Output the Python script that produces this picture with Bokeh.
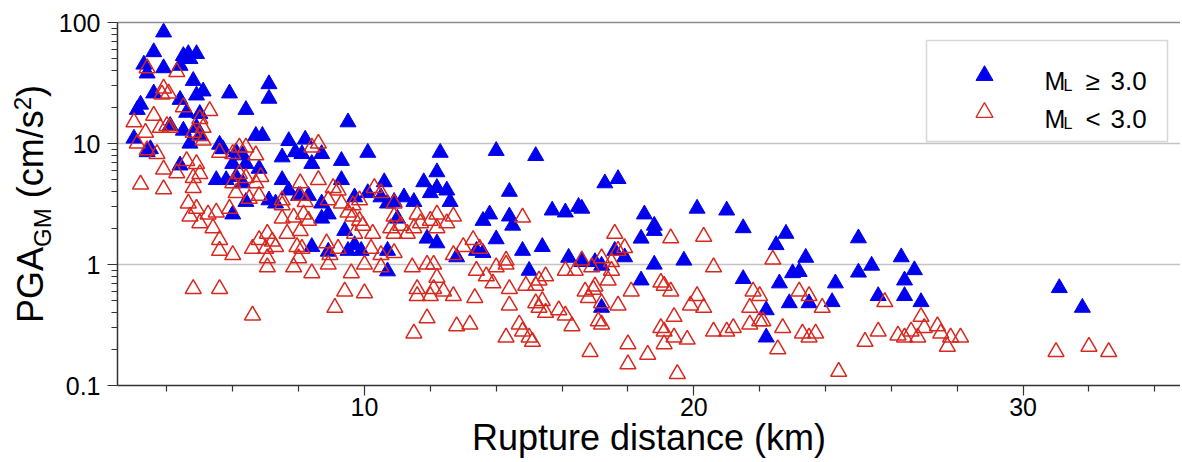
from bokeh.plotting import figure
from bokeh.layouts import row
from bokeh.models import (FixedTicker, LinearAxis, Label, BoxAnnotation, Range1d,
                          CustomJSTickFormatter, Div)
from bokeh.embed import file_html
from bokeh.resources import INLINE

# ---------------- data (rupture distance km, PGA_GM cm/s^2) ----------------
blue_x = [3.0, 3.1, 3.2, 3.3, 3.4, 3.4, 3.5, 3.6, 3.6, 3.9, 3.9, 4.1, 4.4, 4.4, 4.4,
          4.5, 4.5, 4.65, 4.7, 4.6, 4.7, 4.9, 4.8, 4.9, 5.1, 5.0, 4.9, 5.0, 5.6, 5.5,
          5.7, 5.9, 6.4, 6.0, 6.1, 6.3, 6.4, 5.8, 6.1, 6.3, 6.0, 6.4, 6.8, 6.7, 6.9,
          7.1, 7.1, 7.1, 7.3, 7.5, 7.7, 7.9, 8.1, 8.2, 8.4, 8.7, 7.5, 7.7, 8.0, 8.3,
          8.7, 8.7, 8.9, 8.4, 8.9, 9.5, 9.3, 10.1, 9.3, 9.7, 10.1, 10.6, 10.5, 10.7,
          10.9, 9.4, 9.5, 9.7, 9.9, 10.7, 10.7, 11.2, 11.5, 11.0, 11.8, 12.2, 12.2,
          12.0, 12.5, 12.6, 12.3, 11.9, 12.2, 12.8, 13.4, 13.6, 14.0, 14.4, 13.6, 13.8,
          14.4, 14.5, 14.0, 14.8, 15.0, 15.4, 15.2, 15.7, 16.1, 16.5, 16.6, 16.2, 16.6,
          17.0, 17.2, 17.2, 17.6, 17.9, 17.3, 17.7, 18.4, 18.8, 18.4, 18.8, 19.7, 18.5,
          18.8, 20.1, 21.0, 21.5, 21.5, 22.2, 22.2, 22.8, 22.5, 23.4, 23.0, 23.2, 22.6,
          22.9, 23.5, 24.3, 24.2, 25.0, 25.0, 25.4, 25.6, 26.3, 26.4, 26.7, 26.4, 26.9,
          31.1, 31.8]
blue_y = [11.0, 19.0, 21.0, 45.0, 38.0, 8.5, 9.0, 57.0, 26.0, 83.0, 42.0, 14.0, 44.0, 23.0, 6.6,
          53.0, 12.8, 55.0, 50.0, 18.0, 10.0, 55.0, 33.0, 25.0, 27.0, 17.6, 13.5, 11.5, 9.8, 5.0,
          9.0, 26.0, 19.0, 6.8, 8.5, 8.0, 6.8, 5.0, 5.3, 4.7, 2.6, 3.3, 6.2, 11.6, 11.6,
          31.0, 23.5, 3.4, 3.2, 7.7, 10.5, 8.5, 8.2, 10.8, 6.8, 8.2, 5.0, 4.1, 3.7, 3.7,
          3.2, 2.4, 2.6, 1.4, 1.28, 15.0, 7.2, 8.4, 5.0, 3.6, 3.9, 4.8, 3.6, 3.2,
          3.3, 1.9, 1.3, 1.45, 1.3, 1.3, 0.88, 3.6, 3.3, 2.4, 4.8, 5.8, 4.3,
          3.9, 4.1, 3.3, 8.4, 1.64, 1.5, 1.15, 1.3, 1.25, 8.7, 4.0, 2.3, 2.6,
          2.5, 2.1, 1.62, 1.3, 0.89, 1.4, 7.9, 2.8, 2.7, 3.0, 2.9, 1.14, 1.05,
          1.05, 0.98, 0.44, 1.3, 1.15, 4.7, 5.1, 1.64, 1.9, 0.74, 1.0, 1.08, 2.6,
          2.1, 2.9, 2.8, 2.0, 0.76, 0.42, 0.25, 1.8, 1.45, 1.14, 0.85, 0.87, 0.70,
          0.48, 0.48, 0.70, 0.49, 1.65, 0.86, 0.98, 0.55, 1.15, 0.74, 0.90, 0.55, 0.49,
          0.64, 0.44]

red_x = [3.0, 3.1, 3.2, 3.35, 3.4, 3.4, 3.6, 3.7, 3.8, 3.9, 3.85, 4.05, 3.9, 3.9, 4.0,
         4.3, 4.3, 4.5, 4.6, 4.8, 4.8, 4.8, 4.65, 4.9, 5.0, 5.1, 5.0, 4.9, 4.7, 5.0,
         5.3, 5.25, 5.5, 5.4, 4.8, 4.1, 5.0, 5.1,
         5.6, 6.0, 6.2, 6.4, 6.7, 6.2, 6.4, 6.7, 6.0, 6.85, 5.9, 6.1, 6.5, 6.8, 5.6,
         5.6, 6.0, 5.6, 6.6, 6.6, 6.8, 7.0, 7.05, 7.2, 7.3, 7.05, 7.05, 7.5, 7.5, 7.5,
         7.85, 8.15, 7.65, 8.05, 8.3, 7.95, 8.1, 8.0, 7.85, 8.4, 8.4, 8.6, 8.05, 8.2,
         8.05, 8.6, 8.9, 9.05, 9.2, 9.3, 9.65, 9.85, 8.85, 8.95, 8.9, 9.2, 9.6, 9.4,
         9.1, 9.5, 9.65, 9.85, 9.95, 9.7, 10.0, 10.0, 10.2, 10.25,
         10.5, 10.5, 10.3, 10.9, 10.9, 10.9, 10.8, 11.1, 11.3, 11.5, 11.7, 12.0, 12.2,
         12.5, 12.7, 10.5, 10.9, 11.45, 11.9, 12.1, 12.2, 12.1, 12.4, 12.7, 12.0, 11.6,
         11.6, 11.9, 11.5, 12.8, 13.2, 12.7, 13.35, 13.0, 13.3, 13.5, 11.6, 12.2, 14.8,
         13.4, 13.7, 13.9, 14.0, 14.3, 14.3, 14.4, 14.4, 14.3, 14.7, 14.8, 15.0, 15.1,
         15.2, 15.3, 15.4, 15.5, 14.9, 15.2, 15.3, 15.5, 15.9, 16.1, 16.3,
         16.1, 16.4, 16.6, 16.9, 17.2, 17.5, 17.5, 17.7, 17.9, 16.7, 16.8, 16.95, 17.0,
         17.2, 17.1, 17.2, 16.85, 17.6, 17.4, 17.7, 18.0, 18.0, 18.6, 18.1,
         19.0, 19.1, 19.3, 19.0, 19.1, 19.4, 19.4, 19.1, 19.8, 19.5, 19.3, 20.3, 20.6,
         19.9, 20.1, 20.3, 20.6, 21.0, 21.2, 21.8, 21.7, 21.7, 22.0, 22.4, 22.0, 22.1,
         23.2, 23.5, 23.9, 22.7, 22.55, 23.3, 23.5, 23.7, 24.4, 25.2, 25.6, 25.8, 26.2,
         26.4, 26.6, 26.8, 26.9, 27.0, 27.4, 27.5, 27.7, 27.8, 28.1, 31.0, 32.0, 32.6]
red_y = [15.0, 10.0, 4.6, 12.3, 42.0, 8.8, 17.0, 8.2, 13.5, 28.5, 25.5, 26.0, 6.1, 4.2, 14.0,
         39.0, 5.7, 20.0, 7.2, 12.3, 5.2, 4.3, 3.2, 6.8, 11.6, 10.6, 5.6, 2.9, 2.5, 2.2,
         18.6, 2.6, 2.7, 2.0, 0.63, 13.5, 16.0, 13.5,
         8.4, 8.2, 9.3, 9.3, 8.0, 5.6, 5.2, 4.7, 4.7, 5.3, 2.9, 3.9, 3.5, 3.7, 1.6,
         1.3, 1.2, 0.63, 0.38, 1.35, 1.6, 1.35, 1.8, 1.55, 1.4, 1.13, 0.95, 2.4, 3.4, 3.1,
         2.45, 2.6, 1.8, 1.9, 2.3, 1.4, 1.35, 1.13, 0.95, 0.85, 9.3, 10.0, 3.7, 3.3,
         4.7, 5.0, 3.4, 4.3, 4.1, 3.2, 3.1, 3.4, 1.5, 1.2, 1.0, 1.35, 0.85, 0.6,
         0.44, 2.7, 2.5, 2.3, 2.1, 1.8, 0.58, 1.0, 1.35, 1.8,
         0.95, 3.9, 4.3, 3.2, 2.5, 1.8, 2.0, 2.1, 1.8, 2.0, 2.2, 2.3, 2.0,
         2.2, 2.5, 1.2, 1.25, 0.95, 1.0, 1.0, 0.78, 0.63, 0.60, 0.55, 0.55, 0.63,
         0.55, 0.36, 0.27, 0.31, 0.32, 1.2, 0.53, 1.4, 1.6, 1.35, 2.6, 2.6, 2.45,
         0.89, 0.80, 0.70, 0.95, 1.0, 1.08, 0.63, 0.46, 0.25, 0.32, 0.28, 0.25, 0.23,
         0.48, 0.44, 0.50, 0.40, 0.67, 0.67, 0.74, 0.80, 0.42, 0.38, 0.31,
         0.89, 0.89, 1.08, 0.95, 1.13, 0.89, 1.05, 1.3, 1.37, 0.60, 0.53, 0.62, 0.66,
         0.48, 0.34, 0.32, 0.19, 1.8, 0.74, 0.46, 0.22, 0.15, 0.18, 0.60,
         0.71, 0.67, 0.60, 0.30, 0.28, 0.37, 0.25, 0.22, 0.24, 0.125, 1.65, 1.7, 0.95,
         0.46, 0.55, 0.44, 0.28, 0.28, 0.30, 0.60, 0.44, 0.32, 0.34, 1.1, 0.55, 0.34,
         0.60, 0.55, 0.44, 0.30, 0.20, 0.27, 0.25, 0.27, 0.13, 0.23, 0.28, 0.49, 0.26,
         0.25, 0.28, 0.25, 0.37, 0.30, 0.31, 0.27, 0.21, 0.25, 0.25, 0.19, 0.21, 0.19]

x_ticks = [10, 20, 30]
x_minor = [4, 6, 8, 12, 14, 16, 18, 22, 24, 26, 28, 32, 34]
y_ticks = [0.1, 1, 10, 100]
y_minor = [m * d for d in (0.1, 1, 10) for m in range(2, 10)]
legend_labels = ["\u2265 3.0", "< 3.0"]
x_title = "Rupture distance (km)"
y_title_parts = ["PGA", "GM", " (cm/s", "2", ")"]

BLUE = "#0000ee"
RED = "#d8281e"
FONT = "Liberation Sans"

# ---------------- layout (page pixels) ----------------
LEFT_W = 52          # width of the strip holding the rotated y title
H = 460
X0, X1 = 2.5, 34.78
FL, FT, FW, FH = 117, 22, 1063, 363


def dx(px):
    return X0 + (px - FL) * (X1 - X0) / FW


def dy(py):
    return 10 ** (2 - 3.0 * (py - FT) / FH)


p = figure(frame_width=FW, frame_height=FH, x_range=Range1d(X0, X1), y_range=Range1d(0.1, 100),
           y_axis_type="log", output_backend="svg", toolbar_location=None,
           min_border_left=FL - LEFT_W, min_border_right=0, min_border_top=FT,
           min_border_bottom=H - FT - FH)
p.outline_line_color = None
p.background_fill_color = "white"
p.border_fill_color = "white"

# grid
p.xgrid.visible = False
p.ygrid.ticker = FixedTicker(ticks=[1, 10])
p.ygrid.grid_line_color = "#c4c4c4"
p.ygrid.grid_line_width = 1.6

# axes
for ax in (p.xaxis[0], p.yaxis[0]):
    ax.axis_line_color = "#333333"
    ax.axis_line_width = 1.5
    ax.major_tick_line_color = "#333333"
    ax.minor_tick_line_color = "#333333"
    ax.major_tick_line_width = 1.2
    ax.minor_tick_line_width = 1.2
    ax.major_tick_in = 0
    ax.major_tick_out = 10
    ax.minor_tick_in = 0
    ax.minor_tick_out = 6
    ax.major_label_text_font = FONT
    ax.major_label_text_font_size = "25px"
    ax.major_label_text_color = "black"

p.xaxis[0].ticker = FixedTicker(ticks=x_ticks, minor_ticks=x_minor)
p.xaxis[0].major_label_standoff = 2
p.xaxis[0].axis_label = x_title
p.xaxis[0].axis_label_text_font = FONT
p.xaxis[0].axis_label_text_font_size = "36px"
p.xaxis[0].axis_label_text_font_style = "normal"
p.xaxis[0].axis_label_text_color = "black"
p.xaxis[0].axis_label_standoff = -2
p.yaxis[0].ticker = FixedTicker(ticks=y_ticks, minor_ticks=y_minor)
p.yaxis[0].major_label_standoff = 7
p.yaxis[0].formatter = CustomJSTickFormatter(code="return tick < 1 ? tick.toFixed(1) : tick.toFixed(0);")

# top border line
top = LinearAxis(ticker=FixedTicker(ticks=[]), axis_line_color="#8a8a8a", axis_line_width=1.6,
                 major_tick_line_color=None, minor_tick_line_color=None)
p.add_layout(top, "above")

# data
p.scatter(blue_x, blue_y, marker="triangle", size=16, fill_color=BLUE, line_color=BLUE)
p.scatter(red_x, red_y, marker="triangle", size=16, fill_color=None, line_color=RED, line_width=1.5)

# legend
box = BoxAnnotation(left=dx(926), right=dx(1167), top=dy(40), bottom=dy(141),
                    fill_color="white", fill_alpha=1.0, line_color="#7a7a7a", line_width=1.5)
p.add_layout(box)
p.scatter([dx(984)], [dy(75)], marker="triangle", size=17, fill_color=BLUE, line_color=BLUE, level="overlay")
p.scatter([dx(984)], [dy(112)], marker="triangle", size=17, fill_color=None, line_color=RED,
          line_width=1.3, level="overlay")
for base, txt in zip((80, 118), legend_labels):
    sym, num = txt.split(" ")
    for t, px, off, fs in (("M", 1044, 0, "25px"), ("L", 1063, 5, "16px"),
                           (sym, 1085, 0, "26px"), (num, 1110, 0, "26px")):
        p.add_layout(Label(x=dx(px), y=dy(base + off), text=t, text_font=FONT, text_font_size=fs,
                           text_align="left", text_baseline="alphabetic", text_color="black",
                           level="overlay"))

# ---------------- y title strip: rotated HTML text with sub/superscript ----------------
main_a, sub, main_b, sup, main_c = y_title_parts
ytitle_html = (
    '<div style="position:relative; left:13px; top:323px; width:max-content; '
    'transform:rotate(-90deg); transform-origin:0 0; white-space:nowrap; '
    f'font-family:\'{FONT}\', Arial, sans-serif; font-size:36px; line-height:36px; color:#000;">'
    f'{main_a}<span style="position:relative; top:8px; font-size:24px;">{sub}</span>'
    f'{main_b.replace(" ", "&nbsp;")}'
    f'<span style="position:relative; top:-12px; font-size:24px;">{sup}</span>{main_c}</div>'
)
ytitle = Div(text=ytitle_html, width=LEFT_W, height=H, margin=0)

layout = row(ytitle, p, spacing=0)
open("out.html", "w").write(file_html(layout, INLINE))
